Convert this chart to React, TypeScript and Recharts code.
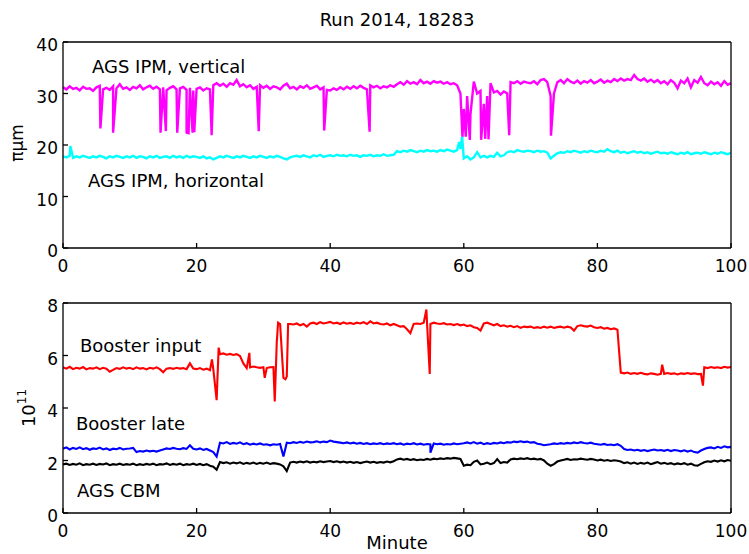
import React from "react";
import { LineChart, Line, XAxis, YAxis } from "recharts";

// sampling grid: one reading every half minute, 0..100
const STEP = 0.5;

// AGS IPM vertical emittance (pi um)
const ipmVertical = [
  31.2, 30.8, 31.4, 30.9, 31.1, 30.6, 31.3, 30.9, 31.0, 30.5, 31.2, 31.5, 30.8, 31.1, 30.7, 31.4, 31.0, 31.8, 30.9, 31.2,
  30.7, 31.3, 31.0, 31.6, 30.8, 31.2, 31.5, 30.9, 31.3, 30.8, 31.2, 30.6, 31.1, 31.4, 30.8, 31.0, 31.3, 30.7, 31.1, 30.6,
  30.9, 31.2, 30.6, 31.0, 30.8, 31.6, 32.0, 31.5, 31.9, 31.3, 32.0, 31.7, 32.6, 31.4, 31.8, 31.2, 31.6, 30.9, 31.3, 31.6,
  31.1, 31.5, 30.9, 31.4, 31.2, 30.8, 31.5, 31.9, 31.0, 31.3, 30.8, 31.4, 31.1, 31.6, 30.9, 31.2, 31.5, 30.8, 31.2, 30.7,
  30.6, 31.0, 30.7, 31.2, 30.8, 31.3, 30.9, 31.4, 31.0, 31.5, 31.1, 30.8, 31.6, 31.2, 31.5, 31.0, 31.4, 31.2, 31.6, 31.3,
  31.8, 32.2, 31.7, 32.4, 31.9, 32.2, 31.8, 32.6, 32.0, 32.3, 31.9, 32.4, 32.1, 32.3, 31.9, 32.2, 31.8, 32.0, 31.6, 30.0,
  27.0, 29.5, 26.0, 32.3, 30.0, 30.5, 28.0, 29.5, 32.0, 30.2, 30.5, 29.8, 30.4, 30.0, 32.2, 32.0, 32.4, 31.9, 32.3, 32.1,
  32.0, 32.4, 31.8, 32.6, 32.8, 32.2, 29.5, 30.0, 32.2, 32.6, 32.0, 32.8, 32.3, 32.0, 32.5, 31.9, 32.4, 32.1, 32.6, 32.0,
  32.3, 32.7, 32.1, 32.5, 32.2, 32.8, 32.4, 32.9, 32.5, 32.8, 32.6, 33.6, 32.8, 32.5, 32.9, 32.3, 32.7, 32.2, 32.6, 32.0,
  32.4, 31.8, 32.6, 32.1, 31.0, 32.5, 32.0, 32.9, 31.2, 32.6, 32.1, 33.2, 32.0, 31.6, 32.3, 31.8, 32.2, 31.5, 32.4, 31.7,
  32.0,
];
const ipmVerticalSpikes: [number, number][] = [
  [5.6, 23.2], [7.5, 22.4], [14.6, 22.4], [15.4, 22.7], [17.1, 22.4], [18.5, 22.4], [18.8, 22.3],
  [19.4, 22.4], [19.65, 22.5], [22.25, 21.9], [29.3, 22.7], [39.1, 22.8], [45.9, 22.6],
  [59.8, 21.5], [60.3, 21.6], [60.9, 21.0], [62.6, 21.0], [63.2, 21.2], [63.7, 21.1], [66.8, 21.9], [73.05, 21.8],
];

// AGS IPM horizontal emittance (pi um)
const ipmHorizontal = [
  17.8, 17.6, 17.9, 17.5, 17.8, 17.6, 17.9, 17.7, 17.5, 17.8, 17.6, 17.9, 17.7, 17.4, 17.8, 17.6, 17.9, 17.7, 17.5, 17.8,
  17.6, 17.9, 17.5, 17.8, 17.7, 17.4, 17.8, 17.6, 17.9, 17.5, 17.7, 17.8, 17.5, 17.9, 17.6, 17.8, 17.5, 17.9, 17.6, 17.8,
  17.7, 17.5, 17.8, 17.4, 17.6, 17.2, 17.5, 17.8, 17.6, 17.9, 17.7, 17.5, 17.8, 17.6, 17.9, 17.7, 17.5, 17.8, 17.6, 17.9,
  17.7, 17.5, 17.8, 17.6, 17.9, 17.7, 17.4, 17.2, 17.6, 17.8, 17.9, 17.7, 18.0, 17.8, 17.6, 18.0, 17.8, 18.1, 17.7, 17.9,
  18.0, 17.8, 18.1, 17.9, 18.0, 17.8, 18.1, 17.9, 18.0, 17.7, 18.0, 17.9, 18.1, 17.8, 18.0, 17.9, 18.2, 17.9, 18.0, 18.1,
  18.8, 18.6, 18.9, 18.7, 19.0, 18.8, 18.6, 18.9, 18.7, 19.0, 18.8, 18.9, 18.7, 19.0, 18.8, 19.1, 18.9, 18.7, 19.0, 19.2,
  17.4, 17.8, 17.2, 17.6, 18.6, 17.6, 17.9, 17.6, 17.9, 17.7, 18.5, 17.8, 18.0, 18.6, 18.8, 18.6, 19.0, 18.8, 18.7, 18.9,
  18.8, 18.6, 18.9, 18.7, 18.8, 18.5, 17.4, 17.9, 18.4, 18.6, 18.5, 18.8, 18.6, 18.9, 18.7, 18.5, 18.8, 18.6, 18.9, 18.7,
  18.6, 18.9, 18.7, 19.2, 18.8, 18.6, 18.9, 18.5, 18.7, 18.4, 18.6, 18.8, 18.5, 18.7, 18.4, 18.6, 18.3, 18.5, 18.7, 18.4,
  18.5, 18.3, 18.6, 18.4, 18.2, 18.5, 18.3, 18.6, 18.2, 18.4, 18.5, 18.3, 18.6, 18.4, 18.2, 18.5, 18.3, 18.6, 18.4, 18.2,
  18.5,
];
const ipmHorizontalSpikes: [number, number][] = [
  [1.1, 19.8], [59.3, 20.6], [59.75, 21.6],
];

// Booster input intensity (1e11)
const boosterInput = [
  5.55, 5.5, 5.57, 5.48, 5.53, 5.5, 5.56, 5.47, 5.52, 5.5, 5.55, 5.48, 5.53, 5.5, 5.38, 5.45, 5.52, 5.49, 5.55, 5.5,
  5.53, 5.48, 5.55, 5.5, 5.52, 5.47, 5.53, 5.5, 5.55, 5.48, 5.36, 5.5, 5.52, 5.49, 5.53, 5.5, 5.52, 5.48, 5.7, 5.5,
  5.48, 5.52, 5.46, 5.5, 5.44, 5.48, 4.3, 6.05, 6.08, 6.03, 6.06, 6.02, 6.05, 5.98, 5.7, 5.52, 5.55, 5.58, 5.55, 5.53,
  5.55, 5.52, 5.55, 5.56, 6.5, 7.2, 5.15, 5.2, 7.2, 7.18, 7.22, 7.15, 7.2, 7.1, 7.22, 7.25, 7.2, 7.27, 7.22, 7.25,
  7.28, 7.22, 7.25, 7.2, 7.26, 7.21, 7.24, 7.2, 7.25, 7.22, 7.27, 7.2, 7.3, 7.22, 7.25, 7.2, 7.18, 7.22, 7.15, 7.2,
  7.15, 7.1, 7.12, 7.0, 6.85, 7.2, 7.22, 7.2, 7.25, 7.22, 7.2, 7.25, 7.22, 7.2, 7.23, 7.18, 7.2, 7.16, 7.2, 7.15,
  7.18, 7.12, 7.15, 7.08, 7.05, 6.95, 7.22, 7.25, 7.2, 7.15, 7.2, 7.12, 7.15, 7.1, 7.13, 7.08, 7.12, 7.05, 7.1, 7.08,
  7.1, 7.05, 7.08, 7.05, 7.1, 7.06, 7.1, 7.05, 7.08, 7.1, 7.06, 7.1, 7.07, 6.95, 7.12, 7.15, 7.12, 7.1, 7.14, 7.08,
  7.05, 7.08, 7.02, 7.05, 7.0, 7.03, 6.98, 5.35, 5.32, 5.35, 5.3, 5.33, 5.3, 5.34, 5.3, 5.28, 5.32, 5.3, 5.27, 5.3,
  5.3, 5.33, 5.3, 5.32, 5.28, 5.32, 5.3, 5.33, 5.3, 5.32, 5.29, 5.3, 5.55, 5.52, 5.56, 5.53, 5.55, 5.52, 5.57, 5.54,
  5.56,
];
const boosterInputSpikes: [number, number][] = [
  [22.3, 5.85], [23.3, 6.3], [27.9, 6.1], [30.2, 5.15], [31.7, 4.25], [32.2, 7.25], [33.3, 5.1], [33.7, 7.2],
  [54.4, 7.75], [54.9, 5.3], [89.7, 5.65], [95.8, 4.85],
];

// Booster late intensity (1e11)
const boosterLate = [
  2.45, 2.5, 2.42, 2.48, 2.44, 2.5, 2.43, 2.47, 2.41, 2.46, 2.44, 2.49, 2.42, 2.46, 2.4, 2.45, 2.43, 2.48, 2.42, 2.45,
  2.46, 2.48, 2.32, 2.36, 2.34, 2.38, 2.35, 2.37, 2.34, 2.38, 2.42, 2.46, 2.44, 2.48, 2.45, 2.43, 2.47, 2.44, 2.58, 2.45,
  2.42, 2.46, 2.4, 2.44, 2.38, 2.32, 2.15, 2.68, 2.65, 2.7, 2.63, 2.67, 2.64, 2.69, 2.62, 2.66, 2.6, 2.64, 2.61, 2.65,
  2.6, 2.62, 2.58, 2.62, 2.6, 2.63, 2.15, 2.68, 2.66, 2.7, 2.67, 2.71, 2.68, 2.72, 2.69, 2.7, 2.73, 2.69, 2.72, 2.7,
  2.76, 2.72, 2.7, 2.68, 2.66, 2.69, 2.65, 2.68, 2.64, 2.67, 2.63, 2.66, 2.62, 2.65, 2.63, 2.66, 2.62, 2.65, 2.63, 2.66,
  2.62, 2.65, 2.6, 2.64, 2.62, 2.66, 2.61, 2.64, 2.6, 2.63, 2.61, 2.65, 2.62, 2.64, 2.6, 2.63, 2.61, 2.65, 2.62, 2.64,
  2.66, 2.69, 2.65, 2.7, 2.64, 2.68, 2.62, 2.66, 2.63, 2.67, 2.65, 2.69, 2.66, 2.7, 2.68, 2.72, 2.7, 2.73, 2.7, 2.72,
  2.68, 2.7, 2.64, 2.62, 2.58, 2.6, 2.62, 2.65, 2.63, 2.66, 2.64, 2.67, 2.65, 2.69, 2.66, 2.7, 2.67, 2.65, 2.68, 2.64,
  2.62, 2.6, 2.63, 2.59, 2.61, 2.58, 2.62, 2.56, 2.44, 2.4, 2.42, 2.38, 2.41, 2.37, 2.4, 2.36, 2.39, 2.42, 2.38, 2.4,
  2.37, 2.41, 2.36, 2.4, 2.38, 2.35, 2.39, 2.34, 2.38, 2.32, 2.3, 2.38, 2.44, 2.48, 2.5, 2.46, 2.52, 2.48, 2.54, 2.5,
  2.52,
];
const boosterLateSpikes: [number, number][] = [[55.0, 2.3]];

// AGS CBM intensity (1e11)
const agsCbm = [
  1.85, 1.88, 1.83, 1.87, 1.84, 1.89, 1.82, 1.86, 1.84, 1.88, 1.83, 1.87, 1.85, 1.89, 1.82, 1.86, 1.84, 1.88, 1.83, 1.86,
  1.84, 1.88, 1.82, 1.86, 1.83, 1.87, 1.84, 1.88, 1.82, 1.86, 1.85, 1.89, 1.83, 1.87, 1.84, 1.88, 1.82, 1.86, 1.84, 1.88,
  1.83, 1.87, 1.82, 1.86, 1.8, 1.76, 1.65, 1.94, 1.9, 1.93, 1.88, 1.92, 1.89, 1.93, 1.87, 1.91, 1.88, 1.92, 1.87, 1.91,
  1.88, 1.92, 1.87, 1.9, 1.88, 1.85, 1.78, 1.6, 1.92, 1.95, 1.92, 1.96, 1.93, 1.97, 1.92, 1.95, 1.93, 1.97, 1.94, 1.96,
  1.98, 1.94, 1.97, 1.93, 1.96, 1.92, 1.95, 1.91, 1.94, 1.9, 1.93, 1.96, 1.92, 1.95, 1.91, 1.94, 1.92, 1.96, 1.93, 1.97,
  2.04, 2.07, 2.03, 2.06, 2.02, 2.05, 2.01, 2.04, 2.02, 2.06, 2.03, 2.07, 2.05, 2.08, 2.06, 2.09, 2.07, 2.1, 2.08, 2.06,
  1.8, 1.84, 1.82, 1.95, 2.0, 1.85, 1.88, 1.92, 1.86, 1.9, 2.05, 1.9, 1.94, 1.92, 2.04, 2.07, 2.05, 2.08, 2.06, 2.09,
  2.05, 2.07, 2.04, 2.06, 2.0, 1.88, 1.8, 1.86, 1.96, 2.0, 2.03, 2.06, 2.02, 2.05, 2.04, 2.07, 2.05, 2.03, 2.06, 2.04,
  2.0, 2.03, 1.99, 2.02, 1.98, 2.01, 1.99, 1.96, 1.9, 1.93, 1.88, 1.92, 1.87, 1.91, 1.88, 1.92, 1.86, 1.9, 1.94, 1.88,
  1.91, 1.87, 1.9, 1.85, 1.89, 1.86, 1.9, 1.84, 1.88, 1.82, 1.8, 1.87, 1.93, 1.97, 1.95, 2.0, 1.96, 2.01, 1.97, 2.02,
  1.99,
];
const agsCbmSpikes: [number, number][] = [];

const xTicks = [0, 20, 40, 60, 80, 100];
const emitTicks = [0, 10, 20, 30, 40];
const intensityTicks = [0, 2, 4, 6, 8];

const FONT = "'DejaVu Sans', sans-serif";

// grid readings plus the narrow spikes, sorted by minute
const buildSeries = (values: number[], spikes: [number, number][]) =>
  values
    .map((v, i) => ({ m: i * STEP, v }))
    .concat(spikes.map(([m, v]) => ({ m, v })))
    .sort((a, b) => a.m - b.m);

const axisStyle = { stroke: "#000", strokeWidth: 1.3 };
const tickStyle = { fontSize: 17, fill: "#000", fontFamily: FONT };

const Panel = ({
  height,
  top,
  bottom,
  domain,
  yTicks,
  series,
}: {
  height: number;
  top: number;
  bottom: number;
  domain: [number, number];
  yTicks: number[];
  series: { data: { m: number; v: number }[]; color: string; width: number }[];
}) => (
  <LineChart width={749} height={height} margin={{ top: 0, right: 0, bottom: 0, left: 0 }}>
    <XAxis
      xAxisId="b"
      dataKey="m"
      type="number"
      domain={[0, 100]}
      ticks={xTicks}
      height={bottom}
      tickSize={-5}
      tickMargin={17}
      axisLine={axisStyle}
      tickLine={axisStyle}
      tick={tickStyle}
      allowDataOverflow
    />
    <XAxis
      xAxisId="t"
      orientation="top"
      dataKey="m"
      type="number"
      domain={[0, 100]}
      ticks={xTicks}
      height={top}
      tickSize={-5}
      axisLine={axisStyle}
      tickLine={axisStyle}
      tick={false}
      allowDataOverflow
    />
    <YAxis
      yAxisId="l"
      type="number"
      domain={domain}
      ticks={yTicks}
      width={63}
      tickSize={-5}
      tickMargin={10}
      axisLine={axisStyle}
      tickLine={axisStyle}
      tick={{ ...tickStyle, dy: 3 }}
      allowDataOverflow
    />
    <YAxis
      yAxisId="r"
      orientation="right"
      type="number"
      domain={domain}
      ticks={yTicks}
      width={18}
      tickSize={-5}
      axisLine={axisStyle}
      tickLine={axisStyle}
      tick={false}
      allowDataOverflow
    />
    {series.map((s, i) => (
      <Line
        key={i}
        xAxisId="b"
        yAxisId="l"
        data={s.data}
        dataKey="v"
        type="linear"
        stroke={s.color}
        strokeWidth={s.width}
        dot={false}
        activeDot={false}
        isAnimationActive={false}
      />
    ))}
  </LineChart>
);

export default function App() {
  const topSeries = [
    { data: buildSeries(ipmVertical, ipmVerticalSpikes), color: "#ff00ff", width: 2.4 },
    { data: buildSeries(ipmHorizontal, ipmHorizontalSpikes), color: "#00ffff", width: 2.4 },
  ];
  const bottomSeries = [
    { data: buildSeries(boosterInput, boosterInputSpikes), color: "#ff0000", width: 2.1 },
    { data: buildSeries(boosterLate, boosterLateSpikes), color: "#0000ff", width: 2.1 },
    { data: buildSeries(agsCbm, agsCbmSpikes), color: "#000000", width: 2.1 },
  ];

  return (
    <div
      style={{
        position: "absolute",
        left: 0,
        top: 0,
        width: 749,
        height: 554,
        background: "#fff",
        overflow: "hidden",
        fontFamily: FONT,
      }}
    >
      <div style={{ position: "absolute", left: 0, top: 0 }}>
        <Panel height={280} top={42} bottom={32} domain={[0, 40]} yTicks={emitTicks} series={topSeries} />
      </div>
      <div style={{ position: "absolute", left: 0, top: 280 }}>
        <Panel height={274} top={23} bottom={41} domain={[0, 8]} yTicks={intensityTicks} series={bottomSeries} />
      </div>
      <svg
        width={749}
        height={554}
        style={{ position: "absolute", left: 0, top: 0, pointerEvents: "none" }}
        fontFamily={FONT}
        fill="#000"
      >
        <text x={397} y={26} fontSize={18} textAnchor="middle">Run 2014, 18283</text>
        <text x={92} y={73} fontSize={18}>AGS IPM, vertical</text>
        <text x={88} y={187} fontSize={18}>AGS IPM, horizontal</text>
        <text x={80} y={352} fontSize={18}>Booster input</text>
        <text x={76} y={430} fontSize={18}>Booster late</text>
        <text x={77} y={497} fontSize={18}>AGS CBM</text>
        <text x={397} y={549} fontSize={18} textAnchor="middle">Minute</text>
        <text transform="translate(23,143) rotate(-90)" fontSize={17} textAnchor="middle">πμm</text>
        <text transform="translate(35,408) rotate(-90)" fontSize={18} textAnchor="middle">
          10<tspan fontSize={12} dy={-9}>11</tspan>
        </text>
      </svg>
    </div>
  );
}
